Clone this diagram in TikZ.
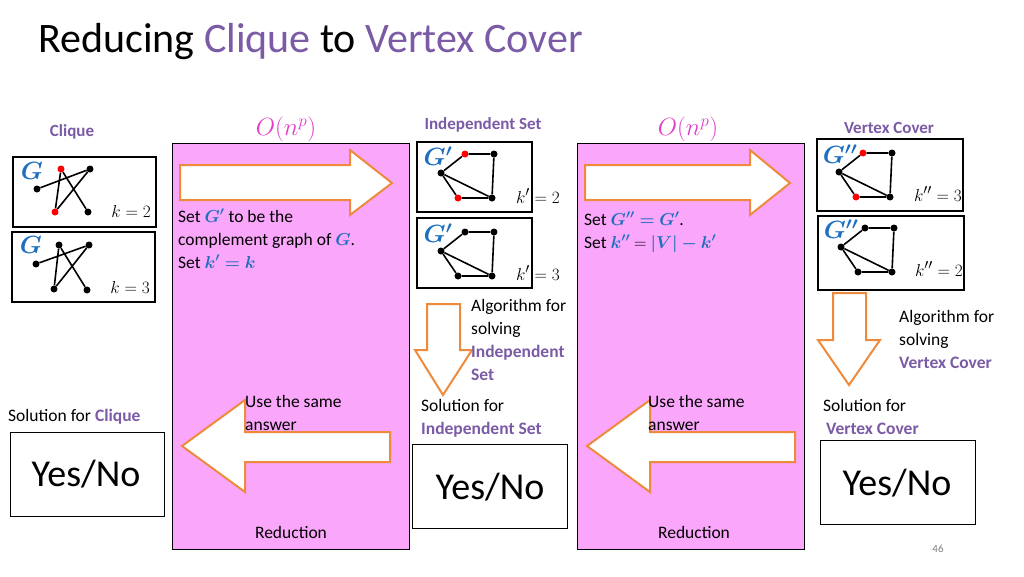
\documentclass[tikz,border=0pt]{standalone}
\usepackage{amsmath,amssymb,bm}
\usepackage{fontspec}
\setmainfont{Carlito}
\usepackage{tikz}
\definecolor{redpurple}{HTML}{7B5AA6}
\definecolor{pinkbg}{HTML}{FAA6FA}
\definecolor{arroworange}{HTML}{EE8A3C}
\definecolor{gblue}{HTML}{1F6FC0}
\definecolor{omag}{HTML}{E03CC8}
\newcommand{\gb}[1]{\textcolor{gblue}{$\bm{#1}$}}
\tikzset{
  dot/.style={circle,fill=black,inner sep=0pt,minimum size=7pt},
  reddot/.style={dot,fill=red},
  edge/.style={line width=1.6pt},
  graphbox/.style={draw,line width=2pt},
  ansbox/.style={draw,line width=0.6pt},
  blockarrow/.style={draw=arroworange,line width=2pt,fill=white},
  txt/.style={font=\fontsize{17.5}{23}\selectfont,align=left,inner sep=0pt},
  head/.style={font=\fontsize{17}{20}\selectfont\bfseries,text=redpurple,inner sep=0pt},
  klab/.style={font=\fontsize{19}{22}\selectfont,anchor=east,inner sep=0pt},
  glab/.style={font=\fontsize{23}{24}\selectfont,inner sep=0pt}
}
\begin{document}
\begin{tikzpicture}[x=1pt,y=-1pt]
  \useasboundingbox[fill=white] (0,0) rectangle (1024,576);
  % title
  \node[anchor=west,inner sep=0pt,font=\fontsize{42}{50}\selectfont] (title) at (38,42)
    {Reducing \textcolor{redpurple}{Clique} to \textcolor{redpurple}{Vertex Cover}};
  % column headings
  \node[head] (hclq) at (72,132) {Clique};
  \node[head] (hind) at (483,125) {Independent Set};
  \node[head] (hvc) at (889,128) {Vertex Cover};
  \node[text=omag,font=\fontsize{25}{26}\selectfont] (o1) at (286,129) {$O(n^p)$};
  \node[text=omag,font=\fontsize{25}{26}\selectfont] (o2) at (688,129) {$O(n^p)$};
  % reduction panels
  \draw[fill=pinkbg] (172,143) rectangle (409,549);
  \draw[fill=pinkbg] (577,143) rectangle (804,549);
  \node[txt] (red1) at (291,532) {Reduction};
  \node[txt] (red2) at (694,532) {Reduction};
  % block arrows
  \draw[blockarrow] (180,165) -- (350,165) -- (350,150) -- (392,183) -- (350,215) -- (350,200) -- (180,200) -- cycle;
  \draw[blockarrow] (585,165) -- (750,165) -- (750,150) -- (790,183) -- (750,215) -- (750,200) -- (585,200) -- cycle;
  \draw[blockarrow] (390,432) -- (245,432) -- (245,400) -- (182,446) -- (245,492) -- (245,462) -- (390,462) -- cycle;
  \draw[blockarrow] (795,432) -- (650,432) -- (650,400) -- (587,446) -- (650,492) -- (650,462) -- (795,462) -- cycle;
  \draw[blockarrow] (427,304) -- (460,304) -- (460,350) -- (472,350) -- (443,395) -- (415,350) -- (427,350) -- cycle;
  \draw[blockarrow] (833,293) -- (866,293) -- (866,340) -- (880,340) -- (849,385) -- (818,340) -- (833,340) -- cycle;
  % texts in panels
  \node[txt,anchor=north west] (set1) at (178,209)
    {Set \gb{G'} to be the\\complement graph of \gb{G}.\\Set \textcolor{gblue}{$\bm{k'=k}$}};
  \node[txt,anchor=north west] (set2) at (584,212)
    {Set \textcolor{gblue}{$\bm{G''=G'}$}.\\Set \textcolor{gblue}{$\bm{k''}$} $=$ \textcolor{gblue}{$\bm{|V|-k'}$}};
  \node[txt,anchor=north west] (same1) at (245,395) {Use the same\\answer};
  \node[txt,anchor=north west] (same2) at (648,395) {Use the same\\answer};
  \node[txt,anchor=north west] (alg1) at (471,299)
    {Algorithm for\\solving\\\textcolor{redpurple}{\bfseries Independent}\\\textcolor{redpurple}{\bfseries Set}};
  \node[txt,anchor=north west] (alg2) at (899,310)
    {Algorithm for\\solving\\\textcolor{redpurple}{\bfseries Vertex Cover}};
  % solutions
  \node[txt,anchor=west] (sol1) at (8,417) {Solution for \textcolor{redpurple}{\bfseries Clique}};
  \node[txt,anchor=north west] (sol2) at (421,399) {Solution for\\\textcolor{redpurple}{\bfseries Independent Set}};
  \node[txt,anchor=north west] (sol3) at (823,399) {Solution for\\\,\textcolor{redpurple}{\bfseries Vertex Cover}};
  \draw[ansbox] (10,432) rectangle (164,516);
  \draw[ansbox] (412,444) rectangle (567,528);
  \draw[ansbox] (820,440) rectangle (975,524);
  \node[font=\fontsize{38}{42}\selectfont] (yn1) at (86,474) {Yes/No};
  \node[font=\fontsize{38}{42}\selectfont] (yn2) at (490,487) {Yes/No};
  \node[font=\fontsize{38}{42}\selectfont] (yn3) at (897,483) {Yes/No};
  % graph boxes
  \draw[graphbox] (13,157) rectangle (156,227);
  \draw[graphbox] (12,232) rectangle (155,302);
  \draw[graphbox] (417,142) rectangle (532,212);
  \draw[graphbox] (417,218) rectangle (532,288);
  \draw[graphbox] (817,139) rectangle (963,211);
  \draw[graphbox] (818,216) rectangle (964,290);
  \node[glab] (lg1) at (32,171) {\gb{G}};
  \node[glab] (lg2) at (31,245) {\gb{G}};
  \node[glab] (lg3) at (438,156) {\gb{G'}};
  \node[glab] (lg4) at (438,233) {\gb{G'}};
  \node[glab] (lg5) at (840,154) {\gb{G''}};
  \node[glab] (lg6) at (841,229) {\gb{G''}};
  \node[klab] (k1) at (151,211) {$k=2$};
  \node[klab] (k2) at (150,287) {$k=3$};
  \node[klab] (k3) at (560,196) {$k'=2$};
  \node[klab] (k4) at (560,273) {$k'=3$};
  \node[klab] (k5) at (962,194) {$k''=3$};
  \node[klab] (k6) at (963,269) {$k''=2$};
  % graph G (clique, k=2)
  \node[reddot] (a1) at (61,169) {};
  \node[dot] (b1) at (90,169) {};
  \node[dot] (c1) at (37,189) {};
  \node[reddot] (d1) at (55,212) {};
  \node[dot] (e1) at (88,212) {};
  \draw[edge] (c1) -- (b1) (a1) -- (e1) (a1) -- (d1) (b1) -- (d1);
  % graph G (clique, k=3)
  \node[dot] (a2) at (59,245) {};
  \node[dot] (b2) at (89,245) {};
  \node[dot] (c2) at (36,264) {};
  \node[dot] (d2) at (54,289) {};
  \node[dot] (e2) at (87,290) {};
  \draw[edge] (c2) -- (b2) (a2) -- (e2) (a2) -- (d2) (b2) -- (d2);
  % complement graphs G' and G''
  \foreach \n/\x/\y/\ca/\cd in {3/441/173/red/red, 4/441/251/black/black, 5/839/172/red/red, 6/841/247/black/black} {
    \node[dot,fill=\ca] (a\n) at (\x+24,\y-19) {};
    \node[dot] (b\n) at (\x+53,\y-19) {};
    \node[dot] (c\n) at (\x,\y) {};
    \node[dot,fill=\cd] (d\n) at (\x+17,\y+25) {};
    \node[dot] (e\n) at (\x+51,\y+25) {};
    \draw[edge] (c\n) -- (a\n) -- (b\n) -- (e\n) -- (d\n) -- (c\n) -- (e\n);
  }
  \node[font=\fontsize{11}{12}\selectfont,text=gray] (pg) at (938,549) {46};
\end{tikzpicture}
\end{document}
